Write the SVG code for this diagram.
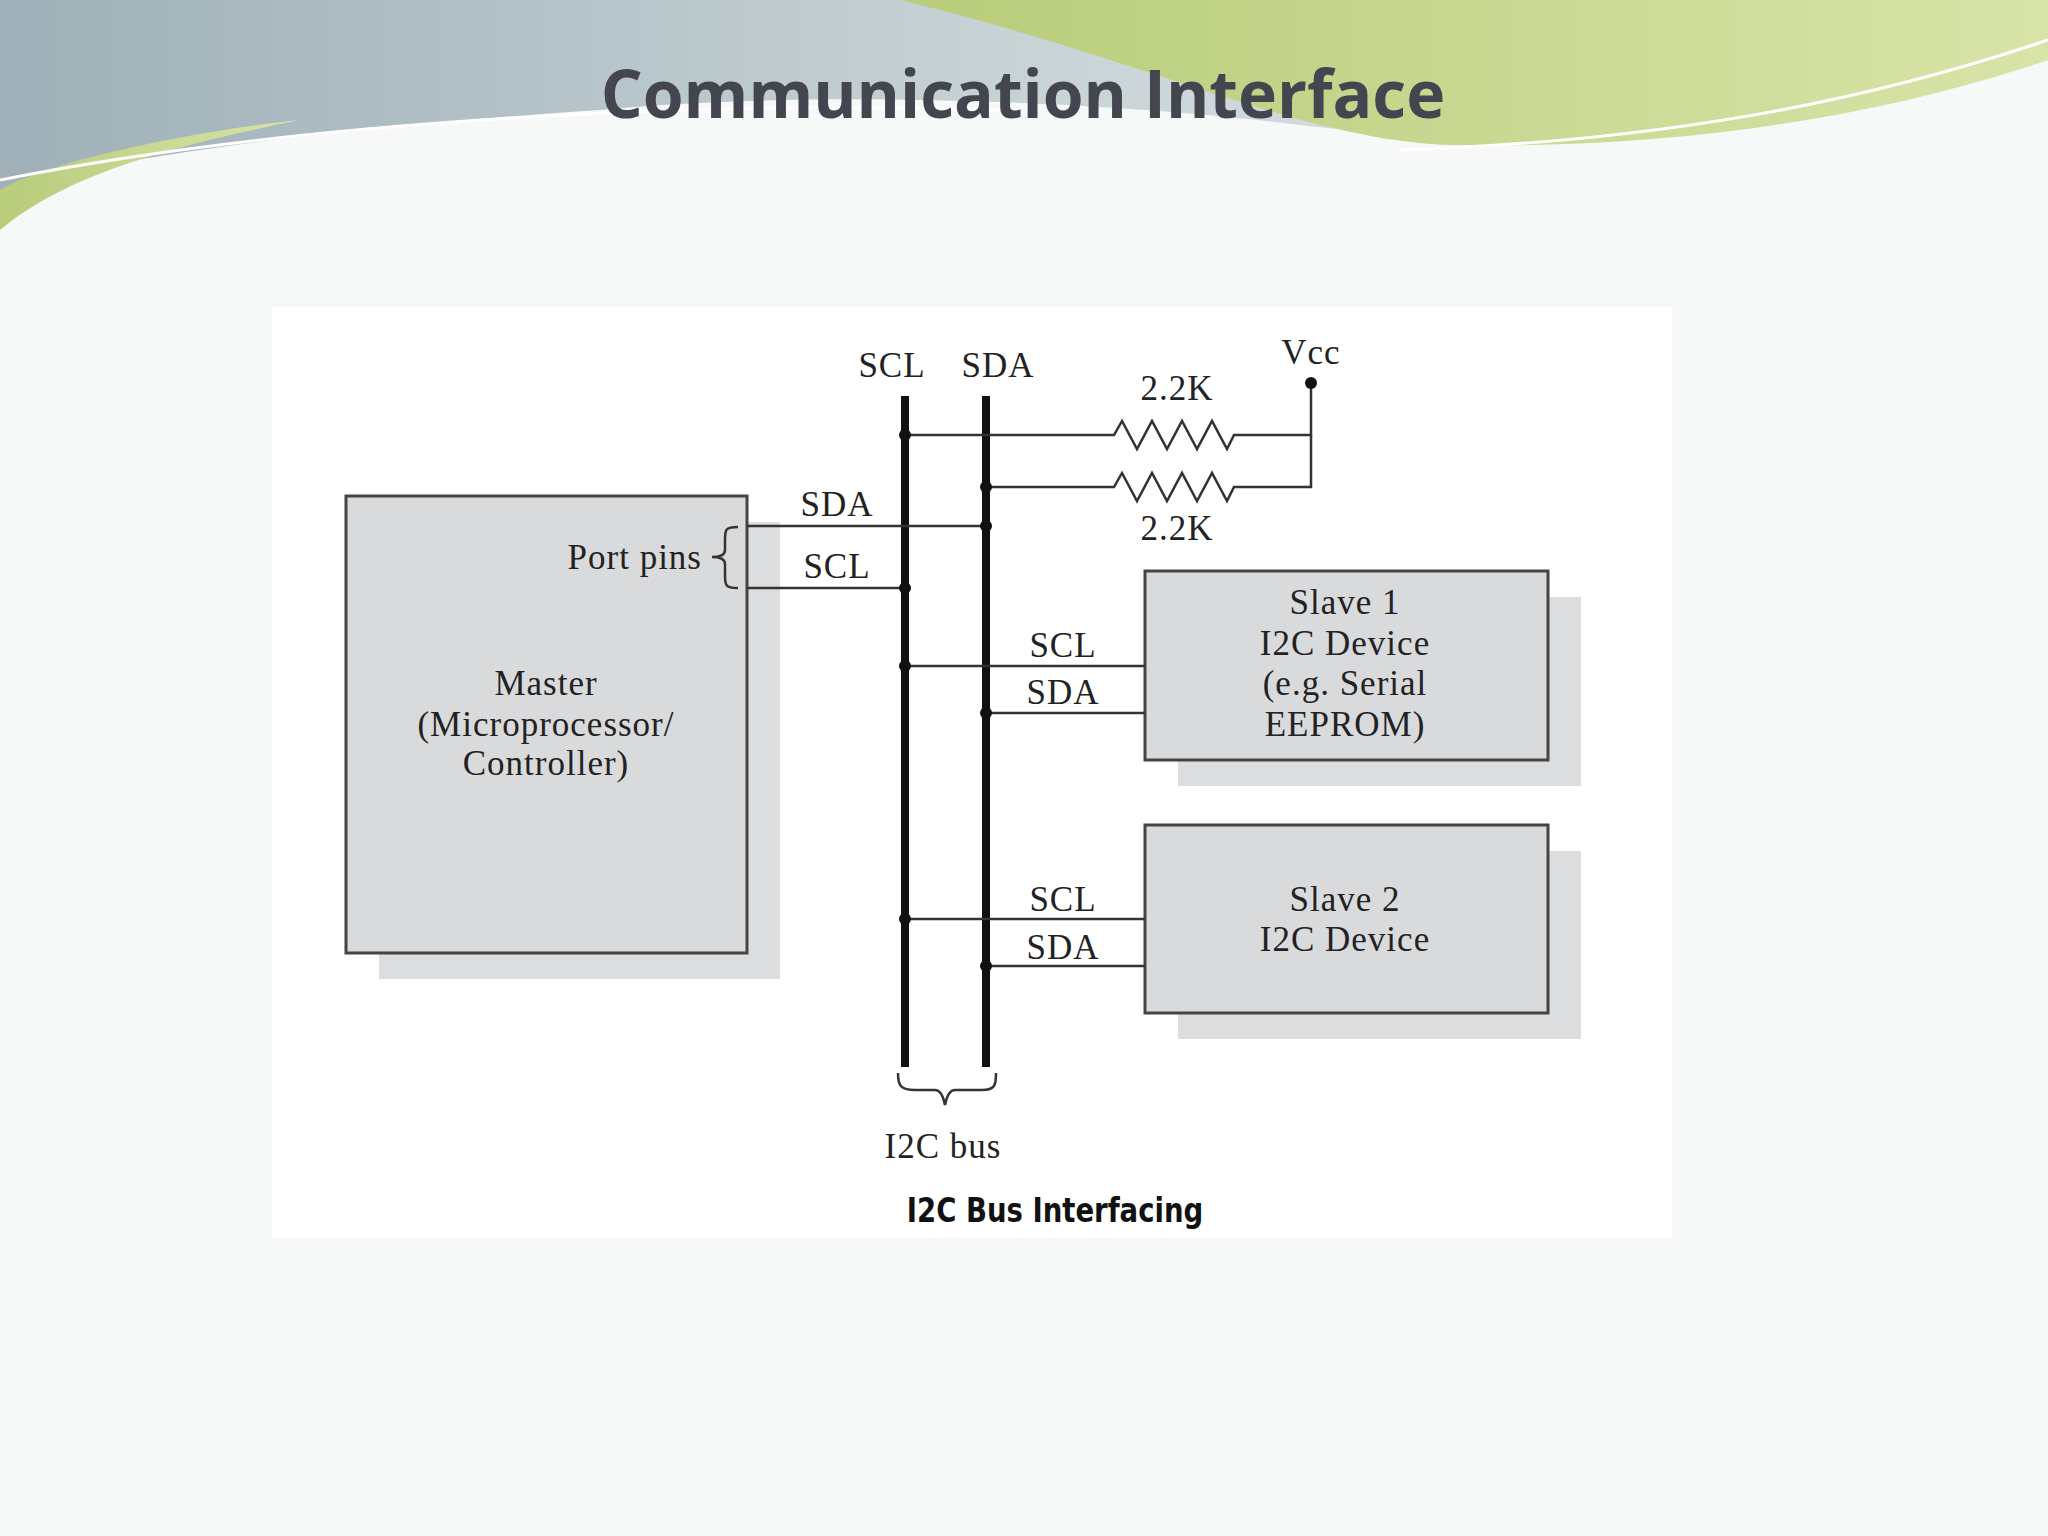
<svg xmlns="http://www.w3.org/2000/svg" width="2048" height="1536" viewBox="0 0 2048 1536">
<defs>
<linearGradient id="sky" x1="0" y1="0" x2="1" y2="0"><stop offset="0" stop-color="#9fb0b8"/><stop offset="0.5" stop-color="#c8d3d6"/><stop offset="1" stop-color="#e6ecec"/></linearGradient>
<linearGradient id="grn" x1="0" y1="0" x2="1" y2="0"><stop offset="0" stop-color="#b8cc7a"/><stop offset="1" stop-color="#d8e4a8"/></linearGradient>
</defs>
<style>
.t{font-family:"Liberation Serif",serif;font-size:35px;fill:#222;letter-spacing:1px}
.box{fill:#d9dadc;stroke:#444;stroke-width:3}
.sh{fill:#dcdddf}
.w{stroke:#333;stroke-width:2.5;fill:none}
.bus{stroke:#111;stroke-width:8}
.d{fill:#111}
</style>
<rect width="2048" height="1536" fill="#f7f8f8"/>
<g id="decor">
<path d="M0 0H2048V60C1800 110 1500 150 1300 125C1100 100 800 90 600 110C300 130 100 160 0 190Z" fill="url(#sky)"/>
<path d="M900 0H2048V60C1900 110 1700 150 1450 145C1300 140 1150 60 900 0Z" fill="url(#grn)"/>
<path d="M0 190C50 160 200 130 300 120C150 150 60 180 0 230Z" fill="url(#grn)"/>
<path d="M0 180C300 120 700 100 1000 110" stroke="#fff" stroke-width="3" fill="none"/>
<path d="M1400 150C1700 140 1900 90 2048 40" stroke="#fff" stroke-width="3" fill="none"/>
</g>
<text x="1023" y="118" text-anchor="middle" font-family="'Open Sans','Noto Sans',sans-serif" font-weight="bold" font-size="66" fill="#44464f">Communication Interface</text>
<rect x="272" y="307" width="1400" height="931" fill="#fff"/>
<g id="master"><rect class="sh" x="379" y="522" width="401" height="457"/><rect class="box" x="346" y="496" width="401" height="457"/>
<text class="t" text-anchor="middle" x="546" y="695">Master</text><text class="t" text-anchor="middle" x="546" y="736">(Microprocessor/</text><text class="t" text-anchor="middle" x="546" y="775">Controller)</text></g>
<g id="slave1"><rect class="sh" x="1178" y="597" width="403" height="189"/><rect class="box" x="1145" y="571" width="403" height="189"/>
<text class="t" text-anchor="middle" x="1345" y="614">Slave 1</text><text class="t" text-anchor="middle" x="1345" y="655">I2C Device</text><text class="t" text-anchor="middle" x="1345" y="695">(e.g. Serial</text><text class="t" text-anchor="middle" x="1345" y="736">EEPROM)</text></g>
<g id="slave2"><rect class="sh" x="1178" y="851" width="403" height="188"/><rect class="box" x="1145" y="825" width="403" height="188"/>
<text class="t" text-anchor="middle" x="1345" y="911">Slave 2</text><text class="t" text-anchor="middle" x="1345" y="951">I2C Device</text></g>
<g id="connectors">
<line class="bus" x1="905" y1="396" x2="905" y2="1067"/><line class="bus" x1="986" y1="396" x2="986" y2="1067"/>
<path class="w" d="M905 435H1114l8-14 15 28 15-28 15 28 15-28 15 28 15-28 15 28 7-14H1311V383"/>
<path class="w" d="M986 487H1114l8-14 15 28 15-28 15 28 15-28 15 28 15-28 15 28 7-14H1311V435"/>
<circle class="d" cx="1311" cy="383" r="6"/>
<path class="w" d="M747 526H986M747 588H905M905 666H1145M986 713H1145M905 919H1145M986 966H1145"/>
<g class="d"><circle cx="905" cy="435" r="6"/><circle cx="986" cy="487" r="6"/><circle cx="986" cy="526" r="6"/><circle cx="905" cy="588" r="6"/><circle cx="905" cy="666" r="6"/><circle cx="986" cy="713" r="6"/><circle cx="905" cy="919" r="6"/><circle cx="986" cy="966" r="6"/></g>
<path class="w" d="M738 527C725 527 725 530 725 540V550C725 555 720 557 712 557C720 557 725 559 725 564V575C725 585 725 588 738 588"/>
<path class="w" d="M898 1073C898 1085 900 1090 915 1090H935C940 1090 943 1095 945 1105C947 1095 950 1090 955 1090H982C995 1090 996 1085 996 1073"/>
</g>
<g id="labels">
<text class="t" text-anchor="middle" x="892" y="377">SCL</text><text class="t" text-anchor="middle" x="998" y="377">SDA</text>
<text class="t" text-anchor="middle" x="1311" y="364">Vcc</text>
<text class="t" text-anchor="middle" x="1177" y="400">2.2K</text><text class="t" text-anchor="middle" x="1177" y="540">2.2K</text>
<text class="t" text-anchor="middle" x="837" y="516">SDA</text><text class="t" text-anchor="middle" x="837" y="578">SCL</text>
<text class="t" text-anchor="end" x="702" y="569">Port pins</text>
<text class="t" text-anchor="middle" x="1063" y="657">SCL</text><text class="t" text-anchor="middle" x="1063" y="704">SDA</text>
<text class="t" text-anchor="middle" x="1063" y="911">SCL</text><text class="t" text-anchor="middle" x="1063" y="959">SDA</text>
<text class="t" text-anchor="middle" x="943" y="1158">I2C bus</text>
<text x="1055" y="1222" text-anchor="middle" font-family="'DejaVu Sans Condensed','DejaVu Sans',sans-serif" font-weight="bold" font-size="34" fill="#111" transform="translate(1055 0) scale(0.9 1) translate(-1055 0)">I2C Bus Interfacing</text>
</g>
</svg>
